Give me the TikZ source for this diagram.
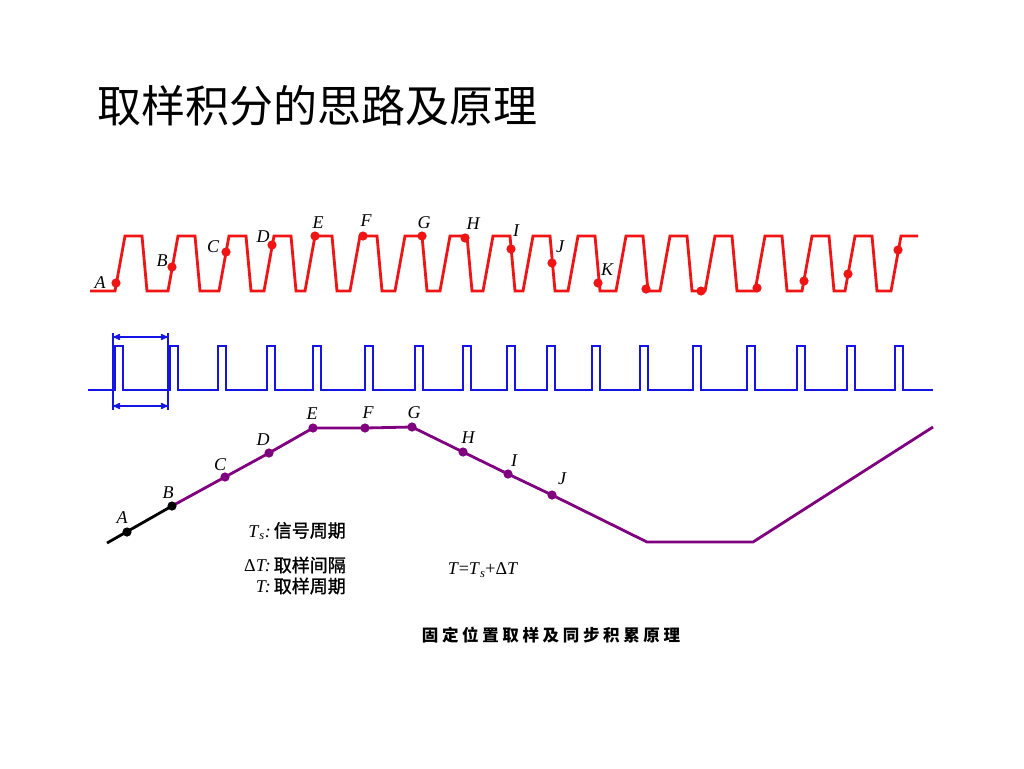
\documentclass[tikz,border=0pt]{standalone}
\usepackage{fontspec}
\setmainfont{Liberation Serif}
\newfontfamily\cjk{Noto Sans CJK SC}
\newfontfamily\cjknote[FakeBold=1.2]{Noto Sans CJK SC}
\newfontfamily\cjkcap[LetterSpace=22]{Noto Sans CJK SC}
\usepackage{tikz}
\usetikzlibrary{arrows,positioning}
\definecolor{sigred}{RGB}{240,20,20}
\definecolor{smpblue}{RGB}{20,20,230}
\definecolor{accpurple}{RGB}{128,0,128}

\begin{document}
\begin{tikzpicture}[x=1pt,y=-1pt,>=stealth',
wave/.style={line width=2.8pt,line join=miter},
sig/.style={wave,draw=sigred},
smp/.style={wave,draw=smpblue},
acc/.style={wave,draw=accpurple},
span/.style={draw=smpblue,line width=1.5pt},
lbl/.style={font=\fontsize{18}{18}\selectfont\itshape,inner sep=0pt},
note/.style={font=\fontsize{18}{18}\selectfont,inner sep=0pt}]
\useasboundingbox[fill=white] (0,0) rectangle (1024,768);

% title
\node [anchor=west,inner sep=0pt,font=\cjk\fontsize{44}{44}\selectfont] (title) at (97,106) {取样积分的思路及原理};

% signal
\draw [sig] (90,291)
	\foreach \c in {133,186,237,282,323,368,413,458,501,541,586,634,678,723,773,820,863}
		{ -- (\c-18,291) -- (\c-8,236) -- (\c+9,236) -- (\c+14,291) }
	-- (891,291) -- (901,236) -- (918,236);
\foreach \n/\x/\y in {A/116/283, B/172/267, C/226/252, D/272/245, E/315/236, F/363/236,
	G/422/236, H/465/238, I/511/249, J/552/263, K/598/283}
	{ \coordinate (r\n) at (\x,\y); \fill [sigred] (r\n) circle (4.6pt); }
\foreach \x/\y [count=\i] in {646/289, 701/291, 757/288, 804/281, 848/274, 898/250}
	{ \coordinate (rx\i) at (\x,\y); \fill [sigred] (rx\i) circle (4.6pt); }
\foreach \n/\x/\y in {A/100/283, B/162/261, C/213/247, D/263/237, E/318/223, F/366/221,
	G/424/223, H/473/224, I/516/231, J/560/247, K/607/270}
	\node [lbl] (lr\n) at (\x,\y) {\n};

% sampling pulses
\draw [smp] (88,390)
	\foreach \p in {115,170,218,267,313,365,415,463,507,547,592,640,693,747,797,847,895}
		{ -- (\p,390) -- (\p,346) -- (\p+8,346) -- (\p+8,390) }
	-- (933,390);
\coordinate (mLt) at (113,333);
\coordinate (mLb) at (113,410);
\coordinate (mRt) at (168,333);
\coordinate (mRb) at (168,410);
\draw [span] (mLt) -- (mLb);
\draw [span] (mRt) -- (mRb);
\draw [span,<->] ([yshift=-4pt]mLt) -- ([yshift=-4pt]mRt);
\draw [span,<->] ([yshift=4pt]mLb) -- ([yshift=4pt]mRb);

% accumulated output
\coordinate (p0) at (107,543);
\foreach \n/\x/\y in {A/127/532, B/172/506, C/225/477, D/269/453, E/313/428, F/365/428,
	G/412/427, H/463/452, I/508/474, J/552/495}
	\coordinate (p\n) at (\x,\y);
\coordinate (pL) at (647,542);
\coordinate (pR) at (753,542);
\coordinate (pEnd) at (933,427);
\draw [wave,black] (p0) -- (pB);
\draw [acc] (pB) -- (pC) -- (pD) -- (pE) -- (pF) -- (pG) -- (pH) -- (pI) -- (pJ) -- (pL) -- (pR) -- (pEnd);
\fill (pA) circle (4.6pt);
\fill (pB) circle (4.6pt);
\foreach \n in {C,D,E,F,G,H,I,J}
	\fill [accpurple] (p\n) circle (4.6pt);
\foreach \n/\x/\y in {A/122/518, B/168/493, C/220/465, D/263/440, E/312/414, F/368/413,
	G/414/413, H/468/438, I/514/461, J/562/479}
	\node [lbl] (lp\n) at (\x,\y) {\n};

% notes
\node [note,anchor=east] (ts) at (346,531) {\textit{T}\textsubscript{\textit{s}}\textit{:}\,{\cjknote 信号周期}};
\node [note,anchor=east] (dt) at (346,565) {Δ\textit{T:}\,{\cjknote 取样间隔}};
\node [note,anchor=east] (tt) at (346,586) {\textit{T:}\,{\cjknote 取样周期}};
\node [note] (eq) at (483,570) {\textit{T}=\textit{T}\textsubscript{\textit{s}}+Δ\textit{T}};
\node [inner sep=0pt,font=\cjkcap\bfseries\fontsize{16.5}{16.5}\selectfont] (cap) at (551,635) {固定位置取样及同步积累原理};
\end{tikzpicture}
\end{document}
